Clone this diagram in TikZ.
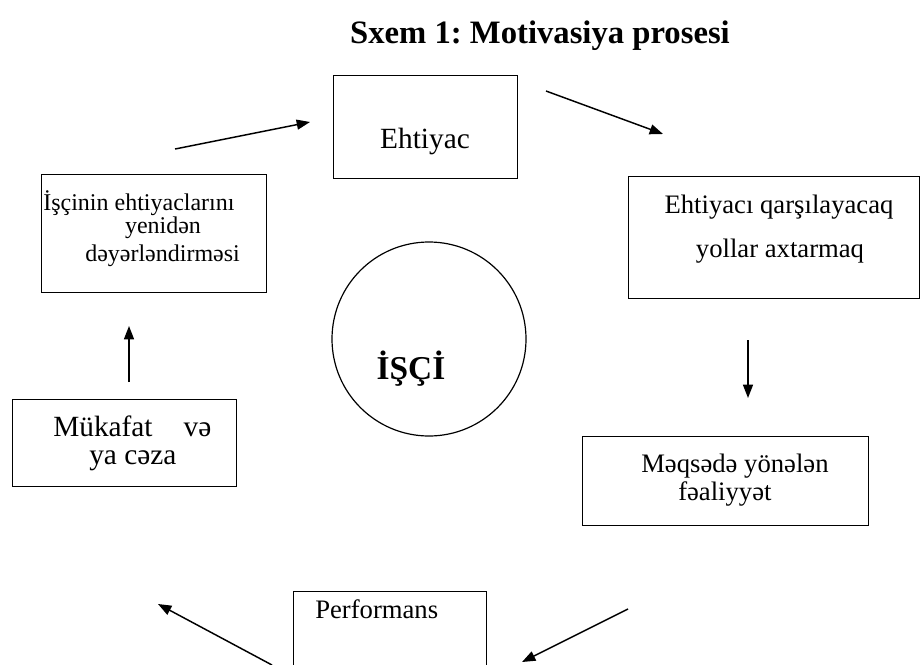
\documentclass[tikz,border=0pt]{standalone}
\usepackage{fontspec}
\setmainfont{Liberation Serif}
\usetikzlibrary{arrows.meta,shapes.geometric}
\frenchspacing
\begin{document}
\begin{tikzpicture}[x=0.75pt,y=-0.75pt,
  box/.style={draw,line width=0.9pt,inner sep=0pt,anchor=north west},
  conn/.style={line width=1.1pt,-{Triangle[length=10pt,width=7.5pt]}},
  txt/.style={inner sep=0pt},
]
\clip (0,0) rectangle (921,664);
\fill[white] (0,0) rectangle (921,664);

% title
\node[txt,anchor=base,font=\fontsize{24.5}{28}\selectfont\bfseries] (title) at (540,43) {Sxem 1: Motivasiya prosesi};

% boxes
\node[box,minimum width=184*0.75pt,minimum height=103*0.75pt] (ehtbox) at (333,75) {};
\node[box,minimum width=225*0.75pt,minimum height=118*0.75pt] (revbox) at (41,174) {};
\node[box,minimum width=291*0.75pt,minimum height=122*0.75pt] (waysbox) at (628,176) {};
\node[box,minimum width=286*0.75pt,minimum height=89*0.75pt] (goalbox) at (582,436) {};
\node[box,minimum width=224*0.75pt,minimum height=87*0.75pt] (rewbox) at (12,399) {};
\node[box,minimum width=193*0.75pt,minimum height=120*0.75pt] (perfbox) at (293,591) {};
\node[draw,line width=0.9pt,circle,minimum size=194*0.75pt,inner sep=0pt] (worker) at (429,339) {};

% texts
\node[txt,anchor=base,font=\fontsize{22}{26}\selectfont] (ehttxt) at (425,148) {Ehtiyac};
\node[txt,anchor=base west,font=\fontsize{18}{21}\selectfont] (rev1) at (43,210) {İşçinin ehtiyaclarını};
\node[txt,anchor=base,font=\fontsize{18}{21}\selectfont] (rev2) at (163,233) {yenidən};
\node[txt,anchor=base west,font=\fontsize{18}{21}\selectfont] (rev3) at (85,261) {dəyərləndirməsi};
\node[txt,anchor=base,font=\fontsize{20}{24}\selectfont] (ways1) at (779,213) {Ehtiyacı qarşılayacaq};
\node[txt,anchor=base,font=\fontsize{20}{24}\selectfont] (ways2) at (780,257) {yollar axtarmaq};
\node[txt,anchor=base west,font=\fontsize{20}{24}\selectfont] (goal1) at (641,472) {Məqsədə yönələn};
\node[txt,anchor=base west,font=\fontsize{20}{24}\selectfont] (goal2) at (678,500) {fəaliyyət};
\node[txt,anchor=base west,font=\fontsize{22}{26}\selectfont] (rew1) at (53,436) {Mükafat\hspace{23.25pt}və};
\node[txt,anchor=base west,font=\fontsize{22}{26}\selectfont] (rew2) at (89,464) {ya cəza};
\node[txt,anchor=base west,font=\fontsize{20}{24}\selectfont] (perftxt) at (315,618) {Performans};
\node[txt,anchor=base,font=\fontsize{25}{29}\selectfont\bfseries] (workertxt) at (411,379) {İŞÇİ};

% connector ends
\coordinate (a1s) at (175,149); \coordinate (a1e) at (310,122);
\coordinate (a2s) at (546,91);  \coordinate (a2e) at (663,134);
\coordinate (a3s) at (748,340); \coordinate (a3e) at (748,398);
\coordinate (a4s) at (628,609); \coordinate (a4e) at (522,662);
\coordinate (a5s) at (272,665); \coordinate (a5e) at (158,604);
\coordinate (a6s) at (129,382); \coordinate (a6e) at (129,326);

\draw[conn] (a1s) -- (a1e);
\draw[conn] (a2s) -- (a2e);
\draw[conn] (a3s) -- (a3e);
\draw[conn] (a4s) -- (a4e);
\draw[conn] (a5s) -- (a5e);
\draw[conn] (a6s) -- (a6e);
\end{tikzpicture}
\end{document}
